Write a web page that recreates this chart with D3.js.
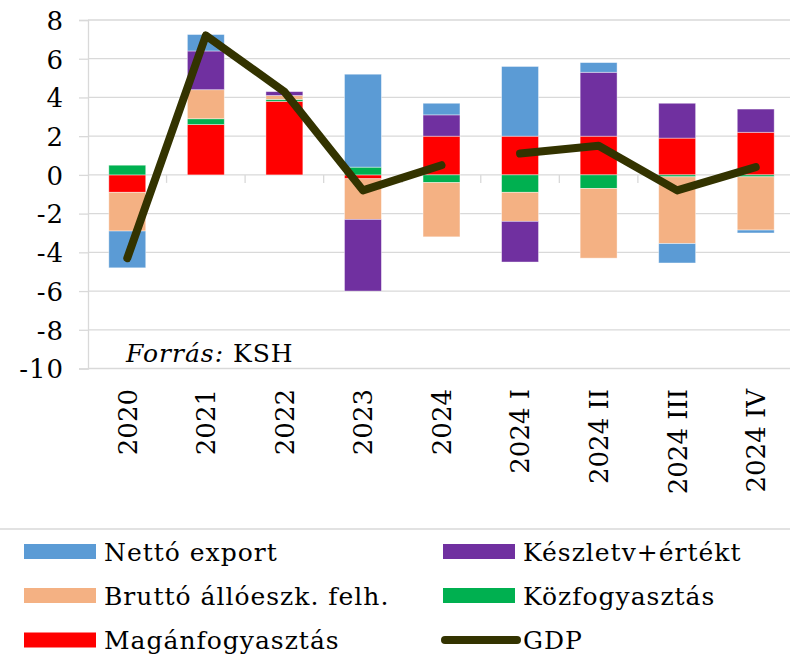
<!DOCTYPE html>
<html>
<head>
<meta charset="utf-8">
<style>
html, body { margin:0; padding:0; background:white; }
svg { display:block; font-family:"DejaVu Serif", serif; }
</style>
</head>
<body>
<div id="chart"></div>
<script src="https://d3js.org/d3.v7.min.js"></script>
<script>
// data
const categories = ["2020","2021","2022","2023","2024","2024 I","2024 II","2024 III","2024 IV"];
const magan   = [-0.9, 2.6, 3.8, -0.2,  2.0,  2.0,  2.0,  1.9,  2.2];
const kozfogy = [ 0.5, 0.3, 0.1,  0.4, -0.4, -0.9, -0.7, -0.1, -0.1];
const brutto  = [-2.0, 1.5, 0.2, -2.1, -2.8, -1.5, -3.6, -3.45, -2.75];
const keszlet = [ 0.0, 2.0, 0.2, -3.7,  1.1, -2.1,  3.3,  1.8,  1.2];
const netto   = [-1.9, 0.85, 0.0, 4.8,  0.6,  3.6,  0.5, -1.0, -0.15];
const gdp     = [-4.3, 7.2, 4.3, -0.8,  0.5,  1.1,  1.5, -0.8,  0.4];
const yTicks  = [8, 6, 4, 2, 0, -2, -4, -6, -8, -10];

// series in stacking order (first is next to zero)
const series = [
  {key:"magan",   name:"Magánfogyasztás",        color:"#ff0000", values:magan},
  {key:"kozfogy", name:"Közfogyasztás",          color:"#00b050", values:kozfogy},
  {key:"brutto",  name:"Bruttó állóeszk. felh.", color:"#f4b183", values:brutto},
  {key:"keszlet", name:"Készletv+értékt",        color:"#7030a0", values:keszlet},
  {key:"netto",   name:"Nettó export",           color:"#5b9bd5", values:netto}
];

const W = 790, H = 655;
const plotL = 88, plotR = 795, plotT = 20, plotB = 368.5;

const svg = d3.select("#chart").append("svg")
  .attr("width", W).attr("height", H);

const x = d3.scaleBand().domain(categories).range([plotL, plotR]).padding(0);
const y = d3.scaleLinear().domain([-10, 8]).range([plotB, plotT]);

// gridlines
svg.append("g").selectAll("line")
  .data(yTicks).join("line")
  .attr("x1", plotL).attr("x2", plotR)
  .attr("y1", d => y(d)).attr("y2", d => y(d))
  .attr("stroke", "#d9d9d9").attr("stroke-width", 1.3);

// left axis
const yAxis = svg.append("g")
  .attr("transform", `translate(${plotL},0)`)
  .call(d3.axisLeft(y).tickValues(yTicks).tickSize(9).tickPadding(15).tickFormat(d => String(d)));
yAxis.select(".domain").attr("stroke", "#d9d9d9").attr("stroke-width", 1.3);
yAxis.selectAll(".tick line").attr("stroke", "#d9d9d9").attr("stroke-width", 1.3);
yAxis.selectAll("text").attr("font-family", "DejaVu Serif").attr("font-size", 26).attr("fill", "#000")
  .attr("text-anchor", "end").attr("dy", "0.36em").attr("letter-spacing", 1);

// category ticks on the zero line (between categories)
svg.append("g").selectAll("line")
  .data(categories.slice(1)).join("line")
  .attr("x1", d => x(d)).attr("x2", d => x(d))
  .attr("y1", y(0)).attr("y2", y(0) + 8)
  .attr("stroke", "#d9d9d9").attr("stroke-width", 1.3);

// stacked bars
const table = categories.map((c, i) => {
  const row = {cat: c};
  series.forEach(s => row[s.key] = s.values[i]);
  return row;
});
const stacked = d3.stack().keys(series.map(s => s.key)).offset(d3.stackOffsetDiverging)(table);
const barW = x.bandwidth() * 0.47;

svg.append("g").selectAll("g")
  .data(stacked).join("g")
  .attr("fill", (d, i) => series[i].color)
  .selectAll("rect")
  .data(d => d.filter(p => p[1] - p[0] !== 0)).join("rect")
  .attr("x", d => x(d.data.cat) + (x.bandwidth() - barW) / 2)
  .attr("width", barW)
  .attr("y", d => y(Math.max(d[0], d[1])))
  .attr("height", d => Math.abs(y(d[0]) - y(d[1])))
  .attr("stroke", "#fff").attr("stroke-opacity", 0.5).attr("stroke-width", 0.8);

// GDP line, annual and quarterly parts separately
const line = d3.line()
  .x(d => x(d.cat) + x.bandwidth() / 2)
  .y(d => y(d.v));
const gdpPts = categories.map((c, i) => ({cat: c, v: gdp[i]}));
[gdpPts.slice(0, 5), gdpPts.slice(5)].forEach(seg => {
  svg.append("path").datum(seg)
    .attr("d", line)
    .attr("fill", "none")
    .attr("stroke", "#333300")
    .attr("stroke-width", 8)
    .attr("stroke-linecap", "round")
    .attr("stroke-linejoin", "round");
});

// category labels
svg.append("g").selectAll("text")
  .data(categories).join("text")
  .attr("transform", d => `translate(${x(d) + x.bandwidth() / 2},389) rotate(-90)`)
  .attr("text-anchor", "end")
  .attr("dy", "0.36em")
  .attr("font-size", 26)
  .text(d => d);

// source note
const src = svg.append("text").attr("x", 126).attr("y", 362).attr("font-size", 25).attr("letter-spacing", 1);
src.append("tspan").attr("font-style", "italic").text("Forrás:");
src.append("tspan").text(" KSH");

// legend
svg.append("line").attr("x1", 0).attr("x2", W).attr("y1", 529).attr("y2", 529)
  .attr("stroke", "#d9d9d9").attr("stroke-width", 1.3);

const legendItems = [
  {name:"Nettó export", color:"#5b9bd5", col:0, row:0},
  {name:"Készletv+értékt", color:"#7030a0", col:1, row:0},
  {name:"Bruttó állóeszk. felh.", color:"#f4b183", col:0, row:1},
  {name:"Közfogyasztás", color:"#00b050", col:1, row:1},
  {name:"Magánfogyasztás", color:"#ff0000", col:0, row:2},
  {name:"GDP", color:"#333300", col:1, row:2, isLine:true}
];
const colX = [24, 443];
const rowY = [551.5, 595.5, 640];
const lg = svg.append("g").selectAll("g")
  .data(legendItems).join("g")
  .attr("transform", d => `translate(${colX[d.col]},${rowY[d.row]})`);
lg.filter(d => !d.isLine).append("rect")
  .attr("x", 0).attr("y", -7.5).attr("width", 72).attr("height", 15)
  .attr("fill", d => d.color);
lg.filter(d => d.isLine).append("line")
  .attr("x1", 2).attr("x2", 74).attr("y1", 0).attr("y2", 0)
  .attr("stroke", d => d.color).attr("stroke-width", 8).attr("stroke-linecap", "round");
lg.append("text")
  .attr("x", 80).attr("dy", "0.36em")
  .attr("font-size", 25).attr("letter-spacing", 1)
  .text(d => d.name);
</script>
</body>
</html>
